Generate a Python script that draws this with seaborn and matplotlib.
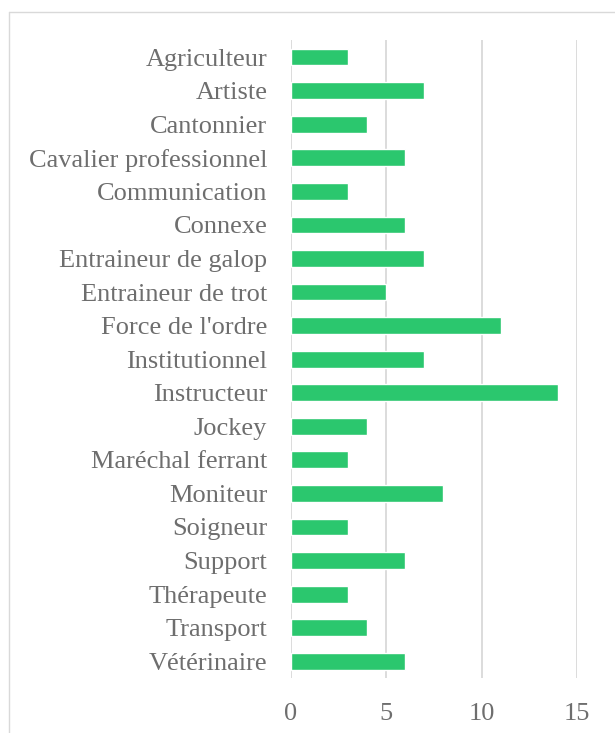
import matplotlib
matplotlib.use("Agg")
import matplotlib.pyplot as plt
import pandas as pd
import seaborn as sns
from matplotlib.lines import Line2D

professions = [
    "Agriculteur", "Artiste", "Cantonnier", "Cavalier professionnel",
    "Communication", "Connexe", "Entraineur de galop", "Entraineur de trot",
    "Force de l'ordre", "Institutionnel", "Instructeur", "Jockey",
    "Maréchal ferrant", "Moniteur", "Soigneur", "Support", "Thérapeute",
    "Transport", "Vétérinaire",
]
counts = [3, 7, 4, 6, 3, 6, 7, 5, 11, 7, 14, 4, 3, 8, 3, 6, 3, 4, 6]
x_ticks = [0, 5, 10, 15]

df = pd.DataFrame({"profession": professions, "count": counts})

sns.set_theme(style="white")
plt.rcParams["font.family"] = ["Liberation Serif", "DejaVu Serif"]

fig = plt.figure(figsize=(6.15, 7.33), dpi=100)
ax = fig.add_axes([0.473, 0.075, 0.465, 0.870])

sns.barplot(data=df, x="count", y="profession", order=professions,
            color="#2BC76E", saturation=1, width=0.5, ax=ax)

ax.set_xlim(0, 15)
ax.set_xticks(x_ticks)
ax.xaxis.grid(True, color="#D9D9D9", linewidth=1.3)
ax.set_axisbelow(True)
for s in ax.spines.values():
    s.set_visible(False)
ax.tick_params(axis="both", length=0, labelsize=19, colors="#6E6E6E")
ax.tick_params(axis="x", pad=18)
ax.tick_params(axis="y", pad=17)
ax.set_xlabel("")
ax.set_ylabel("")

# outer chart frame (top and left edges visible)
fig.add_artist(Line2D([9 / 615, 1], [1 - 12 / 733, 1 - 12 / 733],
                      transform=fig.transFigure, color="#D9D9D9", linewidth=1))
fig.add_artist(Line2D([9 / 615, 9 / 615], [0, 1 - 12 / 733],
                      transform=fig.transFigure, color="#D9D9D9", linewidth=1))

fig.savefig("out.png", dpi=100)
